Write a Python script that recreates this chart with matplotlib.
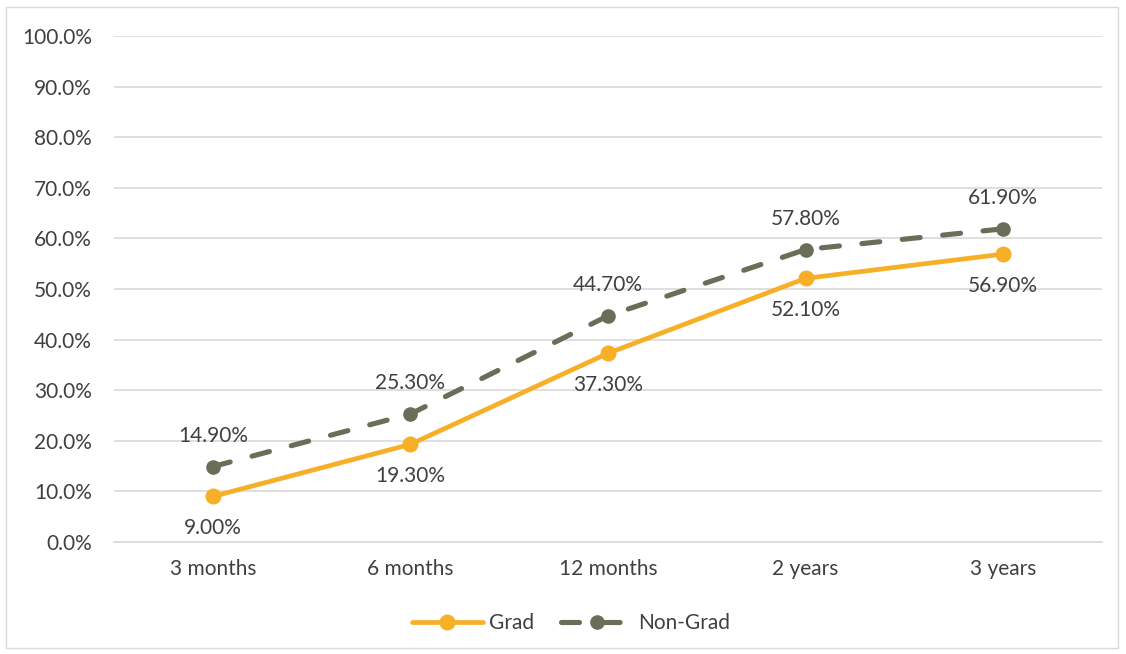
import matplotlib
matplotlib.use("Agg")
import matplotlib.pyplot as plt
from matplotlib.patches import Rectangle
from matplotlib.ticker import FuncFormatter

categories = ["3 months", "6 months", "12 months", "2 years", "3 years"]
grad = [9.0, 19.3, 37.3, 52.1, 56.9]
non_grad = [14.9, 25.3, 44.7, 57.8, 61.9]
y_ticks = [0, 10, 20, 30, 40, 50, 60, 70, 80, 90, 100]

GRAD_COLOR = "#F7AF28"
NONGRAD_COLOR = "#696E58"
TEXT_COLOR = "#404040"
GRID_COLOR = "#D9D9D9"
FS = 15

plt.rcParams["font.family"] = ["Lato", "DejaVu Sans"]

fig = plt.figure(figsize=(11.26, 6.54), dpi=100)
ax = fig.add_axes([114 / 1126, 112 / 654, 988 / 1126, 506 / 654])

x = list(range(len(categories)))
ax.plot(x, grad, color=GRAD_COLOR, lw=3.4, marker="o", ms=10.5,
        solid_capstyle="round", label="Grad", zorder=3)
ax.plot(x, non_grad, color=NONGRAD_COLOR, lw=3.7, marker="o", ms=9.5,
        dashes=(3.5, 4.4), dash_capstyle="round", label="Non-Grad", zorder=3)

for xi, v in zip(x, grad):
    ax.annotate(f"{v:.2f}%", (xi, v), xytext=(0, -23), textcoords="offset points",
                ha="center", va="center", fontsize=FS, color=TEXT_COLOR)
for xi, v in zip(x, non_grad):
    ax.annotate(f"{v:.2f}%", (xi, v), xytext=(0, 22), textcoords="offset points",
                ha="center", va="center", fontsize=FS, color=TEXT_COLOR)

ax.set_xlim(-0.5, len(categories) - 0.5)
ax.set_ylim(0, 100)
ax.set_yticks(y_ticks)
ax.yaxis.set_major_formatter(FuncFormatter(lambda v, p: f"{v:.1f}%"))
ax.set_xticks(x)
ax.set_xticklabels(categories)
ax.tick_params(axis="both", length=0, labelsize=FS, colors=TEXT_COLOR)
ax.tick_params(axis="y", pad=16)
ax.tick_params(axis="x", pad=12)
ax.grid(axis="y", color=GRID_COLOR, lw=1.2)
ax.set_axisbelow(True)
for side in ("top", "right", "left"):
    ax.spines[side].set_visible(False)
ax.spines["bottom"].set_color(GRID_COLOR)
ax.spines["bottom"].set_linewidth(1.2)

leg = ax.legend(loc="center", bbox_to_anchor=(0.4626, -0.16), ncol=2, frameon=False,
                fontsize=FS, handlelength=3.4, columnspacing=1.3, handletextpad=0.3)
for t in leg.get_texts():
    t.set_color(TEXT_COLOR)

fig.patches.append(Rectangle((6 / 1126, 6 / 654), 1112 / 1126, 641 / 654,
                             transform=fig.transFigure, fill=False,
                             edgecolor=GRID_COLOR, lw=1))

fig.savefig("out.png", dpi=100)
